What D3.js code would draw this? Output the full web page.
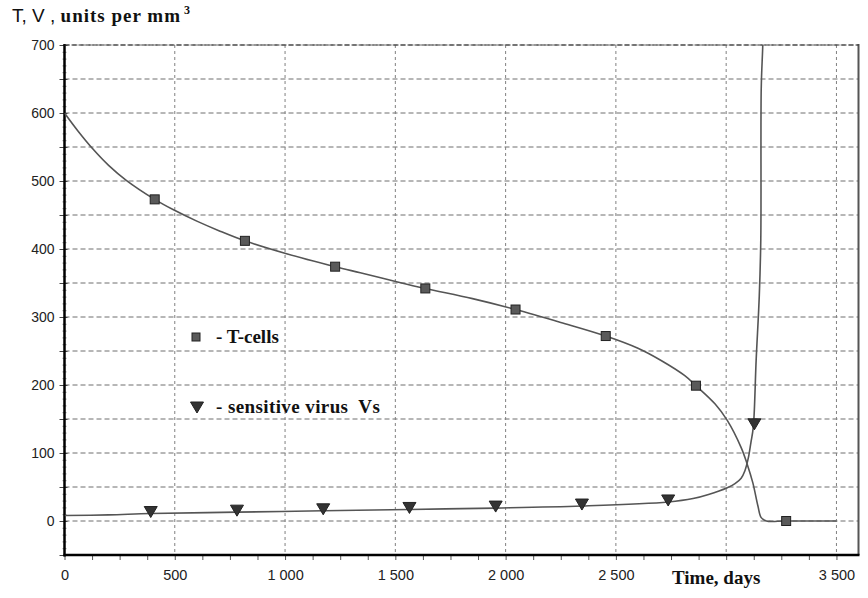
<!DOCTYPE html>
<html><head><meta charset="utf-8">
<script src="https://cdn.jsdelivr.net/npm/d3@7"></script>
<style>
html,body{margin:0;padding:0;background:#fff;}
svg{display:block;}
</style></head>
<body>
<svg id="chart" width="868" height="598"></svg>
<script>
// ---- data ----
const tcellDays  = [0, 60, 129, 200, 280, 409, 492, 600, 700, 818, 1007, 1227, 1341, 1492, 1636, 1850, 2045, 2250, 2454, 2600, 2705, 2811, 2863, 2950, 3005, 3068, 3095, 3121, 3144, 3159, 3182, 3272, 3500];
const tcellVals  = [600, 574, 547, 523, 501, 473, 458, 441, 427, 412, 393, 374, 365, 353, 342, 327, 311, 292, 272, 254, 236, 214, 199, 172, 148, 108, 84, 56, 22, 5, 0, 0, 0];
const tcellMarkDays = [409, 818, 1227, 1636, 2045, 2454, 2863, 3272];
const tcellMarkVals = [473, 412, 374, 342, 311, 272, 199, 0];

const virusDays = [0, 200, 391, 782, 1173, 1564, 1955, 2346, 2737, 2850, 2920, 3005, 3040, 3068, 3085, 3100, 3112, 3123, 3136, 3150, 3157, 3159, 3166, 3170];
const virusVals = [8, 9, 11, 13, 15, 17, 19, 22, 28, 33, 39, 49, 55, 63, 74, 92, 115, 138, 237, 330, 414, 636, 700, 760];
const virusMarkDays = [391, 782, 1173, 1564, 1955, 2346, 2737, 3128];
const virusMarkVals = [11, 13, 15, 17, 19, 22, 28, 140];

const yTickVals = [0, 100, 200, 300, 400, 500, 600, 700];
const xTickVals = [0, 500, 1000, 1500, 2000, 2500, 3500];
const legendLabels = ["- T-cells", "- sensitive virus  Vs"];

// ---- layout ----
const svg = d3.select("#chart");
const L = 64.5, R = 858.5, T = 45, B = 555;
const x = d3.scaleLinear().domain([0, 3600]).range([L, R]);
const y = d3.scaleLinear().domain([-50, 700]).range([B, T]);
const loc = d3.formatLocale({decimal: ".", thousands: " ", grouping: [3], currency: ["", ""]});
const fmt = loc.format(",d");
const numFont = "'Liberation Sans Narrow','Liberation Sans',Arial,sans-serif";
const serif = "'Liberation Serif','Times New Roman',serif";

svg.append("defs").append("clipPath").attr("id", "clip")
  .append("rect").attr("x", L).attr("y", T).attr("width", R - L).attr("height", B - T);

// grid
const g = svg.append("g");
g.selectAll("line.h").data(d3.range(0, 701, 50)).join("line")
  .attr("x1", L).attr("x2", R).attr("y1", d => y(d)).attr("y2", d => y(d))
  .attr("stroke", "#6e6e6e").attr("stroke-width", 1).attr("stroke-dasharray", "5,3");
g.selectAll("line.v").data(d3.range(500, 3501, 500)).join("line")
  .attr("y1", T).attr("y2", B).attr("x1", d => x(d)).attr("x2", d => x(d))
  .attr("stroke", "#808080").attr("stroke-width", 1).attr("stroke-dasharray", "3,3");

// y axis with minor ticks
const yMinor = d3.axisLeft(y).tickValues(d3.range(-50, 701, 10)).tickSize(2).tickFormat("");
svg.append("g").attr("transform", `translate(${L},0)`).call(yMinor)
  .call(s => s.select(".domain").remove())
  .call(s => s.selectAll("line").attr("stroke", "#888").attr("x2", -2).attr("x1", 2));
const yMid = d3.axisLeft(y).tickValues(d3.range(-50, 701, 50)).tickSize(5).tickFormat("");
svg.append("g").attr("transform", `translate(${L},0)`).call(yMid)
  .call(s => s.select(".domain").remove())
  .call(s => s.selectAll("line").attr("stroke", "#444").attr("x1", 3));
const yAx = d3.axisLeft(y).tickValues(yTickVals).tickSize(0).tickPadding(10).tickFormat(d => fmt(d));
svg.append("g").attr("transform", `translate(${L},0)`).call(yAx)
  .call(s => s.select(".domain").remove())
  .call(s => s.selectAll("text").attr("font-family", numFont).attr("font-size", 14).attr("fill", "#222"));

// x axis
const xMinor = d3.axisBottom(x).tickValues(d3.range(0, 3601, 125)).tickSize(5).tickFormat("");
svg.append("g").attr("transform", `translate(0,${B})`).call(xMinor)
  .call(s => s.select(".domain").remove())
  .call(s => s.selectAll("line").attr("stroke", "#555"));
const xAx = d3.axisBottom(x).tickValues(xTickVals).tickSize(0).tickPadding(15).tickFormat(d => fmt(d));
svg.append("g").attr("transform", `translate(0,${B})`).call(xAx)
  .call(s => s.select(".domain").remove())
  .call(s => s.selectAll("text").attr("font-family", numFont).attr("font-size", 14.5).attr("fill", "#222"));

// frame
svg.append("line").attr("x1", R).attr("x2", R).attr("y1", T - 1).attr("y2", B)
  .attr("stroke", "#555").attr("stroke-width", 2);
svg.append("line").attr("x1", L).attr("x2", L).attr("y1", T - 1).attr("y2", B + 1.5)
  .attr("stroke", "#000").attr("stroke-width", 2.5);
svg.append("line").attr("x1", L - 1).attr("x2", R + 1).attr("y1", B).attr("y2", B)
  .attr("stroke", "#000").attr("stroke-width", 2.5);
svg.append("line").attr("x1", L).attr("x2", R).attr("y1", T).attr("y2", T)
  .attr("stroke", "#333").attr("stroke-width", 1.2).attr("stroke-dasharray", "5,2");

// lines
const plot = svg.append("g").attr("clip-path", "url(#clip)");
const tLine = d3.line().x(d => x(d[0])).y(d => y(d[1])).curve(d3.curveCatmullRom.alpha(0.5));
plot.append("path").datum(d3.zip(tcellDays, tcellVals)).attr("d", tLine)
  .attr("fill", "none").attr("stroke", "#555").attr("stroke-width", 1.6);
const vLine = d3.line().x(d => x(d[0])).y(d => y(d[1])).curve(d3.curveCatmullRom.alpha(0.5));
plot.append("path").datum(d3.zip(virusDays, virusVals)).attr("d", vLine)
  .attr("fill", "none").attr("stroke", "#555").attr("stroke-width", 1.6);

// markers
const sq = 9;
plot.selectAll("rect.tm").data(d3.zip(tcellMarkDays, tcellMarkVals)).join("rect")
  .attr("x", d => x(d[0]) - sq / 2).attr("y", d => y(d[1]) - sq / 2)
  .attr("width", sq).attr("height", sq)
  .attr("fill", "#5a5a5a").attr("stroke", "#222").attr("stroke-width", 1);
const tri = "M-6.5,-7L6.5,-7L0,4Z";
plot.selectAll("path.vm").data(d3.zip(virusMarkDays, virusMarkVals)).join("path")
  .attr("d", tri).attr("transform", d => `translate(${x(d[0])},${y(d[1])})`)
  .attr("fill", "#333").attr("stroke", "#222").attr("stroke-width", 1);

// legend
svg.append("rect").attr("x", 192).attr("y", 333).attr("width", 8).attr("height", 8)
  .attr("fill", "#5a5a5a").attr("stroke", "#222");
svg.append("text").attr("x", 216).attr("y", 343).text(legendLabels[0])
  .attr("font-family", serif).attr("font-weight", "bold").attr("font-size", 19).attr("fill", "#111");
svg.append("path").attr("d", tri).attr("transform", "translate(197,409)")
  .attr("fill", "#333").attr("stroke", "#222");
svg.append("text").attr("x", 216).attr("y", 413).text(legendLabels[1])
  .attr("font-family", serif).attr("font-weight", "bold").attr("font-size", 19).attr("fill", "#111")
  .attr("letter-spacing", 0.4).attr("xml:space", "preserve").style("white-space", "pre");

// axis titles
const title = svg.append("text").attr("x", 12).attr("y", 22).attr("fill", "#111");
title.append("tspan").text("T, V , ").attr("font-family", "'Liberation Sans',Arial,sans-serif").attr("font-size", 19);
title.append("tspan").text("units per mm").attr("font-family", serif).attr("font-weight", "bold").attr("font-size", 19).attr("letter-spacing", 1);
title.append("tspan").text("3").attr("font-family", serif).attr("font-weight", "bold").attr("font-size", 12).attr("dy", -8).attr("dx", 3);
svg.append("text").attr("x", 672).attr("y", 584).text("Time, days")
  .attr("font-family", serif).attr("font-weight", "bold").attr("font-size", 19).attr("fill", "#111");
</script>
</body></html>
